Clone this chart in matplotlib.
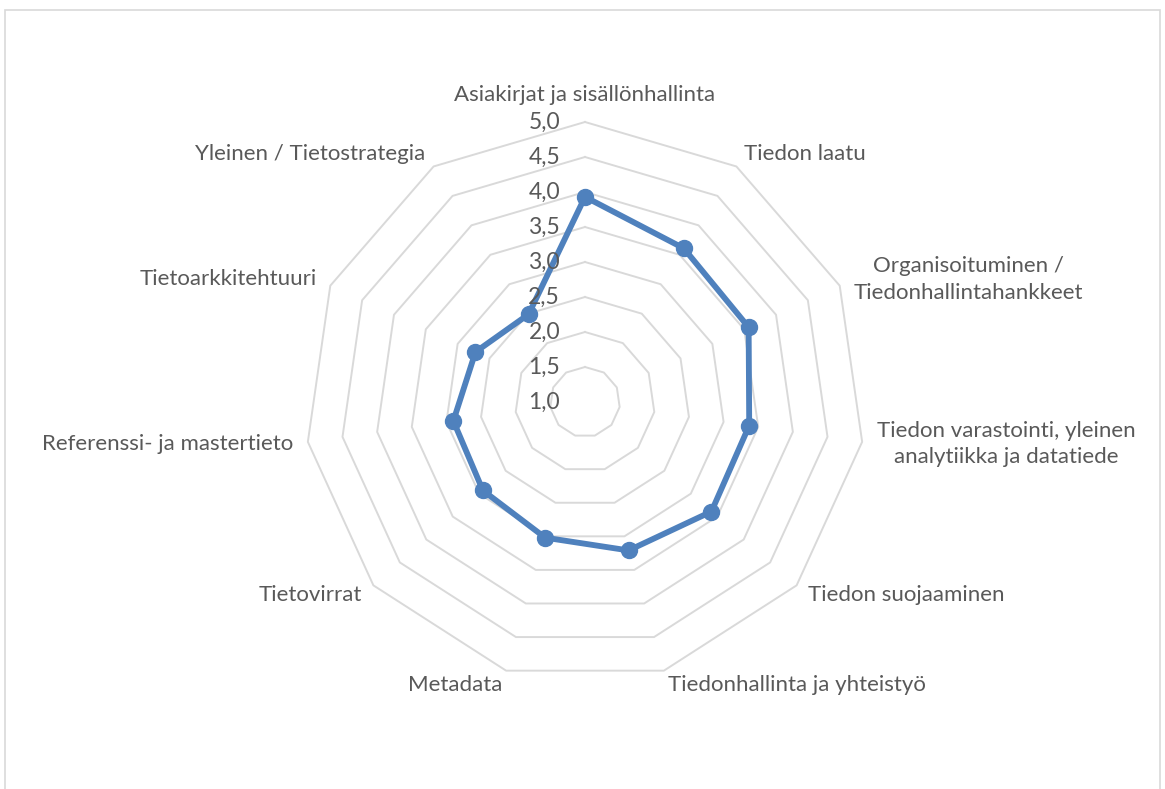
import numpy as np
import matplotlib
matplotlib.use("Agg")
import matplotlib.pyplot as plt
from matplotlib.patches import Rectangle

categories = [
    "Asiakirjat ja sisällönhallinta",
    "Tiedon laatu",
    "Organisoituminen /\nTiedonhallintahankkeet",
    "Tiedon varastointi, yleinen\nanalytiikka ja datatiede",
    "Tiedon suojaaminen",
    "Tiedonhallinta ja yhteistyö",
    "Metadata",
    "Tietovirrat",
    "Referenssi- ja mastertieto",
    "Tietoarkkitehtuuri",
    "Yleinen / Tietostrategia",
]
values = [3.93, 3.61, 3.57, 3.37, 3.39, 3.21, 3.02, 2.93, 2.90, 2.72, 2.49]
ring_levels = [1.5, 2.0, 2.5, 3.0, 3.5, 4.0, 4.5, 5.0]
tick_values = [1.0, 1.5, 2.0, 2.5, 3.0, 3.5, 4.0, 4.5, 5.0]
tick_labels = ["1,0", "1,5", "2,0", "2,5", "3,0", "3,5", "4,0", "4,5", "5,0"]

FONT = "Lato"
TXT = "#595959"
GRID = "#d9d9d9"
LINE = "#4f81bd"

W, H = 1165, 789
fig = plt.figure(figsize=(W / 100, H / 100), dpi=100)
fig.patch.set_facecolor("white")

# outer chart frame
fig.patches.append(Rectangle((4.5 / W, -0.2), (1159.5 - 4.5) / W, 1.2 - 10 / H,
                             transform=fig.transFigure, fill=False,
                             edgecolor=GRID, linewidth=1.2))

cx, cy, R = 585, 402, 280
ax = fig.add_axes([(cx - R) / W, (H - cy - R) / H, 2 * R / W, 2 * R / H],
                  projection="polar")
ax.set_theta_zero_location("N")
ax.set_theta_direction(-1)
ax.set_ylim(1.0, 5.0)
ax.grid(False)
ax.spines["polar"].set_visible(False)
ax.set_xticks([])
ax.set_yticks([])
ax.patch.set_alpha(0)

n = len(categories)
angles = np.arange(n) * 2 * np.pi / n
closed = np.append(angles, angles[0])

for lv in ring_levels:
    ax.plot(closed, [lv] * (n + 1), color=GRID, lw=1.4, zorder=1, clip_on=False)

vals = np.append(values, values[0])
ax.plot(closed, vals, color=LINE, lw=4.2, zorder=3, clip_on=False,
        solid_joinstyle="round")
ax.plot(angles, values, "o", color=LINE, ms=11.5, zorder=4, clip_on=False)

# radial tick labels
for v, t in zip(tick_values, tick_labels):
    ax.annotate(t, xy=(0, v), xytext=(-18, 0), textcoords="offset points",
                ha="right", va="center", fontsize=16.5, color=TXT,
                family=FONT, annotation_clip=False)

# category labels
for i, (a, lab) in enumerate(zip(angles, categories)):
    deg = np.degrees(a)
    if i == 0:
        ax.text(a, 5.386, lab, ha="center", va="center", fontsize=16,
                color=TXT, family=FONT, clip_on=False)
        continue
    ha = "left" if deg < 180 else "right"
    ax.text(a, 5.214, lab, ha=ha, va="center", ma="center", fontsize=16,
            color=TXT, family=FONT, clip_on=False, linespacing=1.4)

fig.savefig("out.png", dpi=100, facecolor="white")
